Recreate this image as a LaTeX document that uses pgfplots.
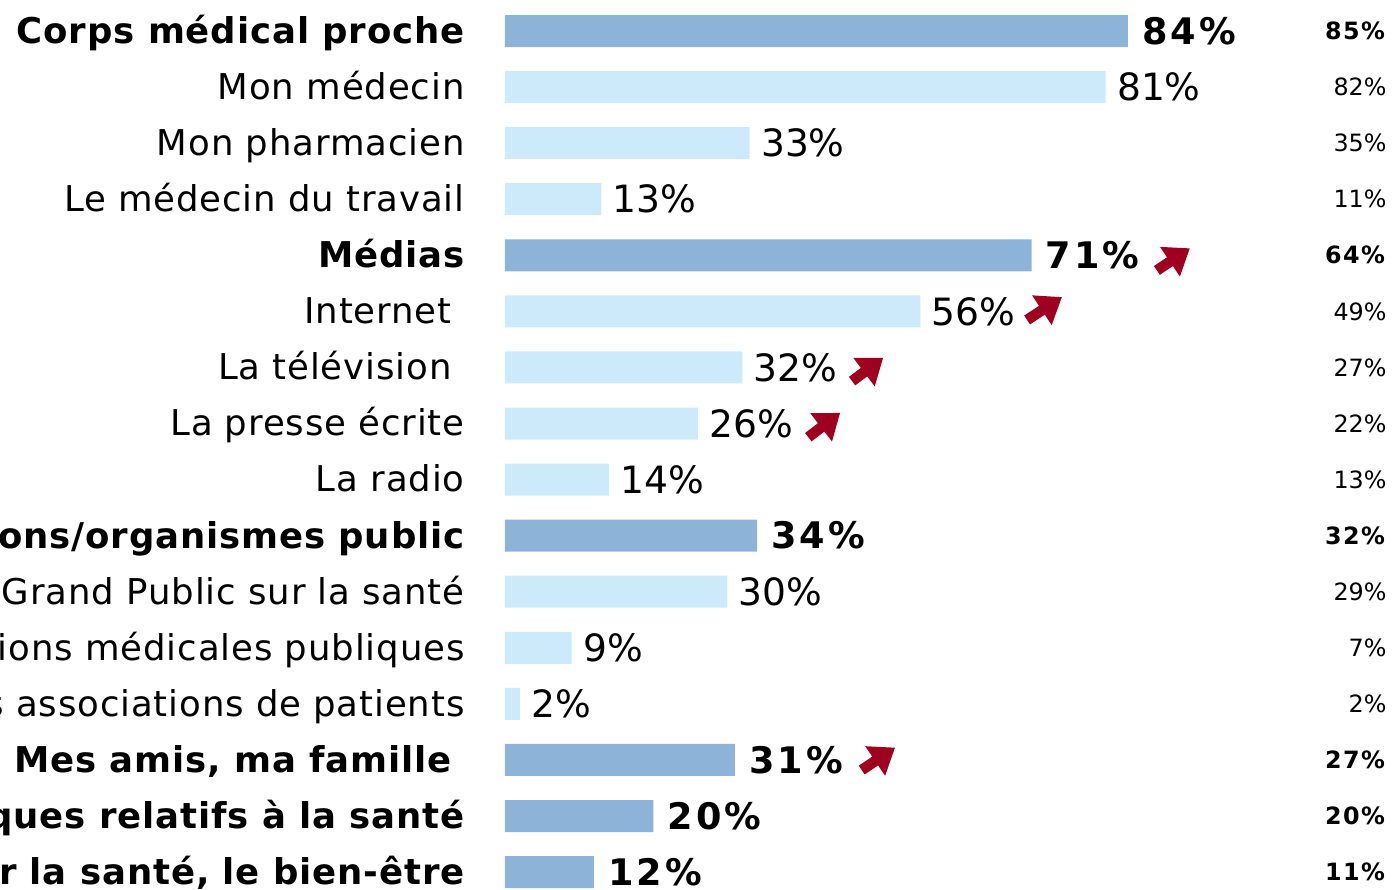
\documentclass[border=0pt]{standalone}
\usepackage{fontspec}
\setmainfont{DejaVu Sans}
\newfontfamily\trk[LetterSpace=2.5]{DejaVu Sans}
\newfontfamily\trkb[LetterSpace=8]{DejaVu Sans}
\newfontfamily\trkc[LetterSpace=6]{DejaVu Sans}
\usepackage{pgfplots}
\pgfplotsset{compat=1.18}
\usetikzlibrary{arrows.meta}
\definecolor{cdark}{HTML}{8DB3D9}
\definecolor{clight}{HTML}{CCEAFA}
\definecolor{cred}{HTML}{A00020}
\tikzset{trend/.style={cred, line width=5.3pt, -{Triangle[length=12pt, width=17pt]}}}

\begin{document}
\begin{tikzpicture}
\begin{axis}[
    at={(0,0)}, anchor=south west,
    scale only axis,
    width=443.5pt, height=444.5pt,
    xmin=0, xmax=119.6,
    ymin=-0.5535, ymax=15.302,
    y dir=reverse,
    clip=false,
    axis line style={draw=none},
    major tick length=0pt,
    xtick=\empty,
    ytick={0,...,15},
    /pgf/number format/assume math mode=true,
    yticklabels={
        {\bfseries Corps médical proche},
        Mon médecin,
        Mon pharmacien,
        Le médecin du travail,
        {\bfseries Médias},
        {Internet\hspace*{6.5pt}},
        {La télévision\hspace*{6.5pt}},
        La presse écrite,
        La radio,
        {\bfseries Les institutions/organismes public},
        Les sites Grand Public sur la santé,
        Les sites des institutions médicales publiques,
        Les sites des associations de patients,
        {\bfseries Mes amis, ma famille\hspace*{6.5pt}},
        {\bfseries Les livres spécifiques relatifs à la santé},
        {\bfseries Les salons sur la santé, le bien-être}
    },
    yticklabel style={font=\trk\fontsize{17.75}{20}\selectfont, anchor=base east, inner sep=0pt, xshift=-20pt, yshift=-6.2pt},
    bar width=16pt,
]
% group totals (dark bars)
\addplot[xbar, bar shift=0pt, draw=none, fill=cdark,
    nodes near coords={\pgfmathprintnumber\pgfplotspointmeta\%},
    every node near coord/.style={font=\trkb\bfseries\fontsize{18.3}{22}\selectfont, anchor=west, inner sep=0pt, xshift=7pt}]
    coordinates {(84,0) (71,4) (34,9) (31,13) (20,14) (12,15)};
% detail rows (light bars)
\addplot[xbar, bar shift=0pt, draw=none, fill=clight,
    nodes near coords={\pgfmathprintnumber\pgfplotspointmeta\%},
    every node near coord/.style={font=\fontsize{18.8}{22}\selectfont, anchor=west, inner sep=0pt, xshift=5.5pt}]
    coordinates {(81,1) (33,2) (13,3) (56,5) (32,6) (26,7) (14,8) (30,10) (9,11) (2,12)};
% previous wave, right column
\addplot[draw=none, mark=none, point meta=explicit,
    nodes near coords={\pgfmathprintnumber\pgfplotspointmeta\%},
    every node near coord/.style={font=\trkc\bfseries\fontsize{11.9}{14}\selectfont, anchor=east, inner sep=0pt}]
    coordinates {(118.7,0) [85] (118.7,4) [64] (118.7,9) [32] (118.7,13) [27] (118.7,14) [20] (118.7,15) [11]};
\addplot[draw=none, mark=none, point meta=explicit,
    nodes near coords={\pgfmathprintnumber\pgfplotspointmeta\%},
    every node near coord/.style={font=\fontsize{11.9}{14}\selectfont, anchor=east, inner sep=0pt}]
    coordinates {(118.9,1) [82] (118.9,2) [35] (118.9,3) [11] (118.9,5) [49] (118.9,6) [27] (118.9,7) [22] (118.9,8) [13]
                 (118.9,10) [29] (118.9,11) [7] (118.9,12) [2]};
% trend arrows
\draw[trend] (axis cs:87.9,4.27) -- (axis cs:92.35,3.875);
\draw[trend] (axis cs:70.4,5.153) -- (axis cs:75.1,4.745);
\draw[trend] (axis cs:46.8,6.244) -- (axis cs:51.0,5.827);
\draw[trend] (axis cs:40.9,7.244) -- (axis cs:45.2,6.809);
\draw[trend] (axis cs:48.1,13.18) -- (axis cs:52.6,12.78);
\end{axis}
\pgfresetboundingbox
\path[use as bounding box] (-252.5pt,0) rectangle (443.5pt,444.5pt);
\end{tikzpicture}
\end{document}
